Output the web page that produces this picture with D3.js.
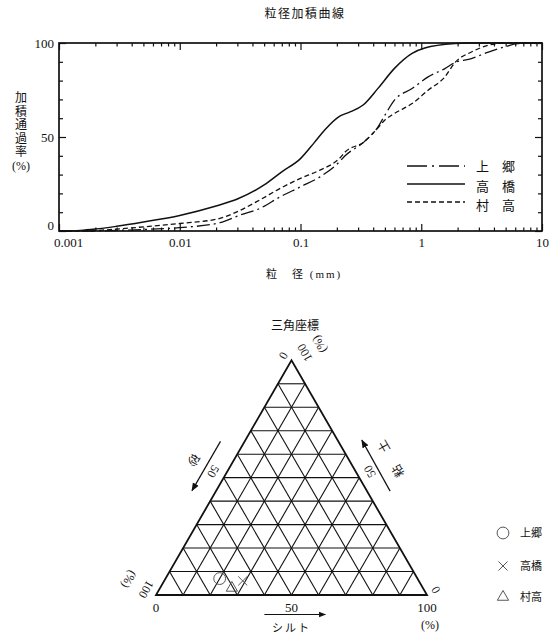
<!DOCTYPE html>
<html>
<head>
<meta charset="utf-8">
<script src="https://cdn.jsdelivr.net/npm/d3@7"></script>
<style>
  body { margin: 0; background: #fff; }
  svg { font-family: "Liberation Serif", "Noto Sans CJK JP", serif; }
  .num { font-family: "Liberation Serif", "DejaVu Serif", serif; }
</style>
</head>
<body>
<div id="chart"></div>
<script>
// grading curves: [grain size (mm), cumulative passing (%)]
var kamigo = [[0.001,0],[0.002,0],[0.003,0.3],[0.005,0.8],[0.01,1.8],[0.0215,4.4],[0.0316,8.5],[0.046,12],
  [0.068,18.2],[0.1,23.5],[0.145,28.8],[0.21,36.8],[0.234,40],[0.336,47.4],[0.44,55.5],[0.5,61.6],
  [0.6,69.6],[0.84,75.8],[1.14,82],[1.57,86.4],[1.9,89.6],[2.6,91.7],[3.6,95.2],[4.9,97.9],[6.3,99.7],[10,100]];
var takahashi = [[0.001,0],[0.0015,0.3],[0.002,1],[0.003,2.5],[0.005,4.8],[0.01,8.3],[0.02,13.3],[0.03,17],
  [0.05,24.5],[0.07,31.5],[0.1,38.5],[0.13,47],[0.16,54],[0.21,61],[0.25,63],[0.33,67],[0.44,76],
  [0.6,86.5],[0.84,94.5],[1.07,97.3],[1.9,99.7],[2.5,100],[10,100]];
var muradaka = [[0.001,0],[0.002,0.3],[0.003,1],[0.005,2.2],[0.01,4],[0.0215,6.7],[0.0316,11],[0.046,16.5],
  [0.068,22.7],[0.1,28],[0.145,32.4],[0.21,38.6],[0.234,42],[0.336,47.4],[0.44,55],[0.5,59],
  [0.6,62.5],[0.84,67.8],[1.14,74.9],[1.57,82],[1.9,89.6],[2.6,95.2],[3.6,98.8],[4.9,100],[10,100]];

var curveNames = ["上　郷", "高　橋", "村　高"];
var xMajor = [0.001, 0.01, 0.1, 1, 10];
var xMajorLabels = ["0.001", "0.01", "0.1", "1", "10"];
var yMajor = [0, 50, 100];
var yLabelChars = ["加", "積", "通", "過", "率", "(%)"];

// triangle chart (sand / silt / clay, %)
var soilNames = ["上郷", "高橋", "村高"];
var sand = [73, 65, 70.5];
var silt = [20, 29, 26.5];
var clay = [7, 6, 3];

var svg = d3.select("#chart").append("svg")
  .attr("width", 556).attr("height", 636);
svg.append("rect").attr("width", 556).attr("height", 636).attr("fill", "#fff");

var ink = "#111";

// ---------- grading curve ----------
var pLeft = 59, pRight = 542, pTop = 43, pBottom = 231;

var x = d3.scaleLog().domain([0.001, 10]).range([pLeft, pRight]);
var y = d3.scaleLinear().domain([0, 100]).range([pBottom, pTop]);

var xMinor = [];
xMajor.slice(0, -1).forEach(function(d) {
  for (var k = 2; k <= 9; k++) xMinor.push(d * k);
});
var yMinor = d3.range(10, 100, 10).filter(function(d) { return d != 50; });

function ticks(axis, values, size, tx, ty) {
  var g = svg.append("g")
    .attr("transform", "translate(" + tx + "," + ty + ")")
    .call(axis.tickValues(values).tickSize(size).tickFormat(""));
  g.select(".domain").remove();
  g.selectAll("line").attr("stroke", ink).attr("stroke-width", 1.2);
  return g;
}
ticks(d3.axisTop(x), xMinor, 3.5, 0, pBottom);
ticks(d3.axisTop(x), xMajor, 7, 0, pBottom);
ticks(d3.axisBottom(x), xMinor, 3.5, 0, pTop);
ticks(d3.axisBottom(x), xMajor, 7, 0, pTop);
ticks(d3.axisRight(y), yMinor, 4, pLeft, 0);
ticks(d3.axisRight(y), yMajor, 7, pLeft, 0);
ticks(d3.axisLeft(y), yMinor, 4, pRight, 0);
ticks(d3.axisLeft(y), yMajor, 7, pRight, 0);

svg.append("rect")
  .attr("x", pLeft).attr("y", pTop)
  .attr("width", pRight - pLeft).attr("height", pBottom - pTop)
  .attr("fill", "none").attr("stroke", ink).attr("stroke-width", 1.7);

// tick labels
var xl = svg.append("g")
  .attr("transform", "translate(0," + (pBottom + 4) + ")")
  .call(d3.axisBottom(x).tickValues(xMajor).tickSize(0)
    .tickFormat(function(d, i) { return xMajorLabels[i]; }));
xl.attr("font-family", null).attr("font-size", null);
xl.select(".domain").remove();
xl.selectAll("text").attr("class", "num").attr("font-size", 13).attr("fill", ink)
  .attr("dx", function(d, i) { return i == 0 ? 9 : 0; });

var yl = svg.append("g")
  .attr("transform", "translate(" + (pLeft - 2) + ",0)")
  .call(d3.axisLeft(y).tickValues(yMajor).tickSize(0));
yl.attr("font-family", null).attr("font-size", null);
yl.select(".domain").remove();
yl.selectAll("text").attr("class", "num").attr("font-size", 13).attr("fill", ink)
  .attr("dy", function(d) { return d == 0 ? "-0.1em" : "0.32em"; });

// titles
svg.append("text").attr("x", 305).attr("y", 18).attr("text-anchor", "middle")
  .attr("font-size", 12).attr("letter-spacing", 1.5).attr("fill", ink).text("粒径加積曲線");
svg.append("text").attr("x", 266).attr("y", 278)
  .attr("font-size", 11).attr("fill", ink)
  .text("粒　径 (mm)").attr("letter-spacing", 2);
svg.append("g").selectAll("text")
  .data(yLabelChars).enter().append("text")
  .attr("x", 21).attr("y", function(d, i) { return 102 + i * 13.6; })
  .attr("text-anchor", "middle").attr("font-size", 12).attr("fill", ink)
  .text(function(d) { return d; });

// curves
var series = [kamigo, takahashi, muradaka];
var dashes = ["13,4,2,4", null, "5,3"];
var widths = [1.3, 1.5, 1.3];

var line = d3.line()
  .curve(d3.curveMonotoneX)
  .x(function(d) { return x(d[0]); })
  .y(function(d) { return y(d[1]); });

svg.append("g").selectAll("path")
  .data(series).enter().append("path")
  .attr("d", line)
  .attr("fill", "none")
  .attr("stroke", ink)
  .attr("stroke-width", function(d, i) { return widths[i]; })
  .attr("stroke-dasharray", function(d, i) { return dashes[i]; });

// legend
var legendY = [166, 184, 202];
var lg = svg.append("g").selectAll("g")
  .data(curveNames).enter().append("g")
  .attr("transform", function(d, i) { return "translate(407," + legendY[i] + ")"; });
lg.append("line").attr("x1", 0).attr("x2", 58)
  .attr("stroke", ink).attr("stroke-width", function(d, i) { return widths[i]; })
  .attr("stroke-dasharray", function(d, i) { return i == 0 ? "20,5,2,5" : dashes[i]; });
lg.append("text").attr("x", 69).attr("y", function(d, i) { return 5 + i * 1.5; })
  .attr("font-size", 13).attr("fill", ink)
  .text(function(d) { return d; });

// ---------- triangle chart ----------
var triL = 156, triR = 427, triBase = 595;
var triH = (triR - triL) * Math.sqrt(3) / 2;
var tx = d3.scaleLinear().domain([0, 100]).range([triL, triR]);
var ty = d3.scaleLinear().domain([0, 100]).range([triBase, triBase - triH]);

function proj(sa, si, cl) { return [tx(si + cl / 2), ty(cl)]; }

svg.append("text").attr("x", 295).attr("y", 330).attr("text-anchor", "middle")
  .attr("font-size", 12).attr("fill", ink).text("三角座標");

var grid = [];
d3.range(10, 100, 10).forEach(function(v) {
  grid.push([proj(100 - v, 0, v), proj(0, 100 - v, v)]);   // clay constant
  grid.push([proj(100 - v, v, 0), proj(0, v, 100 - v)]);   // silt constant
  grid.push([proj(v, 100 - v, 0), proj(v, 0, 100 - v)]);   // sand constant
});
svg.append("g").selectAll("line")
  .data(grid).enter().append("line")
  .attr("x1", function(d) { return d[0][0]; }).attr("y1", function(d) { return d[0][1]; })
  .attr("x2", function(d) { return d[1][0]; }).attr("y2", function(d) { return d[1][1]; })
  .attr("stroke", ink).attr("stroke-width", 1.1);

svg.append("path")
  .attr("d", d3.line()([proj(100, 0, 0), proj(0, 100, 0), proj(0, 0, 100)]) + "Z")
  .attr("fill", "none").attr("stroke", ink).attr("stroke-width", 1.8)
  .attr("stroke-linejoin", "miter");

// side geometry helpers: t = 0 at apex
var apex = proj(0, 0, 100);
var L = triR - triL;
function leftSide(t, off) {
  return [apex[0] - 0.5 * t * L - 0.866 * off, apex[1] + 0.866 * t * L - 0.5 * off];
}
function rightSide(t, off) {
  return [apex[0] + 0.5 * t * L + 0.866 * off, apex[1] + 0.866 * t * L - 0.5 * off];
}

var defs = svg.append("defs");
defs.append("marker").attr("id", "arr")
  .attr("viewBox", "0 0 10 10").attr("refX", 9).attr("refY", 5)
  .attr("markerWidth", 7).attr("markerHeight", 7).attr("orient", "auto")
  .append("path").attr("d", "M0,1L10,5L0,9Z").attr("fill", ink);

function arrow(a, b, w) {
  svg.append("line").attr("x1", a[0]).attr("y1", a[1]).attr("x2", b[0]).attr("y2", b[1])
    .attr("stroke", ink).attr("stroke-width", w || 1.2).attr("marker-end", "url(#arr)");
}
function rtext(p, angle, txt, size, cls) {
  svg.append("text")
    .attr("class", cls || null)
    .attr("transform", "translate(" + p[0] + "," + p[1] + ") rotate(" + angle + ")")
    .attr("text-anchor", "middle").attr("dy", "0.35em")
    .attr("font-size", size || 12).attr("fill", ink).text(txt);
}

// left side: 砂 (0 at apex, 100 at bottom left)
rtext(leftSide(0, 9), 120, "0", 12, "num");
rtext(leftSide(0.5, 12), 120, "50", 12, "num");
rtext(leftSide(1, 11), 120, "100", 12, "num");
rtext(leftSide(1, 31), 120, "(%)", 12, "num");
rtext(leftSide(0.5, 35), 120, "砂", 12);
arrow(leftSide(0.39, 21), leftSide(0.6, 21));

// right side: 粘土 (0 at bottom right, 100 at apex)
rtext(rightSide(1, 10), -120, "0", 12, "num");
rtext(rightSide(0.5, 12), -120, "50", 12, "num");
rtext(rightSide(0, 15), -120, "100", 12, "num");
rtext(rightSide(0, 32), -120, "(%)", 12, "num");
rtext(rightSide(0.55, 37), -120, "粘", 12);
rtext(rightSide(0.446, 37), -120, "土", 12);
arrow(rightSide(0.6, 20), rightSide(0.385, 21));

// bottom: シルト
var botLabels = [0, 50, 100];
svg.append("g").selectAll("text")
  .data(botLabels).enter().append("text")
  .attr("class", "num")
  .attr("x", function(d) { return tx(d); }).attr("y", 612)
  .attr("text-anchor", "middle").attr("font-size", 13).attr("fill", ink)
  .text(function(d) { return d; });
svg.append("text").attr("class", "num").attr("x", tx(100) + 3).attr("y", 629).attr("text-anchor", "middle")
  .attr("font-size", 12).attr("fill", ink).text("(%)");
arrow([tx(40), 614.5], [tx(62.5), 614.5], 1);
svg.append("text").attr("x", tx(50)).attr("y", 632).attr("text-anchor", "middle")
  .attr("font-size", 11).attr("fill", ink).attr("letter-spacing", 2).text("シルト");

// soil points
var markers = [d3.symbolCircle, d3.symbolTimes, d3.symbolTriangle];
var markerSize = [110, 55, 55];
var pts = soilNames.map(function(n, i) { return proj(sand[i], silt[i], clay[i]); });
svg.append("g").selectAll("path")
  .data(pts).enter().append("path")
  .attr("transform", function(d) { return "translate(" + d[0] + "," + d[1] + ")"; })
  .attr("d", function(d, i) { return d3.symbol().type(markers[i]).size(markerSize[i])(); })
  .attr("fill", "none").attr("stroke", "#444").attr("stroke-width", 0.9);

// triangle legend
var legY = [533, 566, 597];
var tl = svg.append("g").selectAll("g")
  .data(soilNames).enter().append("g")
  .attr("transform", function(d, i) { return "translate(503," + legY[i] + ")"; });
tl.append("path")
  .attr("d", function(d, i) { return d3.symbol().type(markers[i]).size(markerSize[i])(); })
  .attr("fill", "none").attr("stroke", "#444").attr("stroke-width", 0.9);
tl.append("text").attr("x", 17).attr("dy", "0.35em")
  .attr("font-size", 11).attr("fill", ink).text(function(d) { return d; });
</script>
</body>
</html>
